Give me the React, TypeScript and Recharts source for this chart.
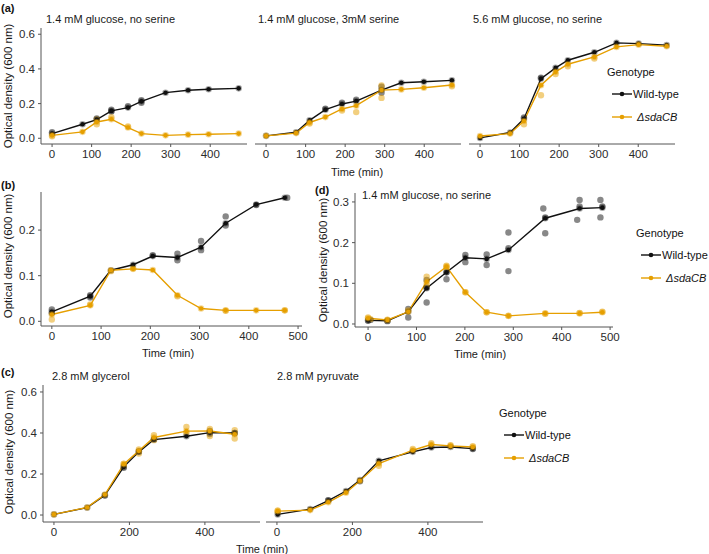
import { ComposedChart, Line, Scatter, XAxis, YAxis } from 'recharts';

const FONT = '"Liberation Sans", Arial, Helvetica, sans-serif';
const WT = '#111111';
const MUT = '#E69F00';
const AXIS = '#555555';
const TXT = '#2b2b2b';

// (a) 1.4 mM glucose, no serine
const a1Time = [0, 77, 113, 150, 192, 226, 287, 344, 396, 472];
const a1Wt = [0.027, 0.081, 0.108, 0.158, 0.177, 0.213, 0.263, 0.277, 0.283, 0.288];
const a1Mut = [0.017, 0.037, 0.094, 0.11, 0.062, 0.027, 0.017, 0.021, 0.023, 0.027];
const a1WtRepT = [0, 113, 150, 150, 192, 226, 226];
const a1WtRep = [0.035, 0.115, 0.165, 0.155, 0.185, 0.22, 0.205];
const a1MutRepT = [0, 113, 113, 150, 192];
const a1MutRep = [0.012, 0.108, 0.081, 0.122, 0.068];

// (a) 1.4 mM glucose, 3mM serine
const a2Time = [0, 76, 110, 150, 192, 228, 292, 342, 399, 470];
const a2Wt = [0.014, 0.035, 0.103, 0.165, 0.198, 0.214, 0.278, 0.32, 0.326, 0.334];
const a2Mut = [0.014, 0.03, 0.091, 0.122, 0.169, 0.188, 0.278, 0.282, 0.291, 0.307];
const a2WtRepT = [150, 192, 228, 292, 292];
const a2WtRep = [0.17, 0.205, 0.222, 0.297, 0.262];
const a2MutRepT = [110, 192, 228, 292, 292, 470];
const a2MutRep = [0.085, 0.16, 0.151, 0.305, 0.233, 0.3];

// (a) 5.6 mM glucose, no serine
const a3Time = [0, 76, 111, 154, 191, 222, 289, 345, 401, 472];
const a3Wt = [0.002, 0.033, 0.113, 0.344, 0.406, 0.45, 0.496, 0.55, 0.546, 0.537];
const a3Mut = [0.013, 0.027, 0.1, 0.306, 0.383, 0.427, 0.469, 0.527, 0.54, 0.531];
const a3WtRepT = [111, 154];
const a3WtRep = [0.12, 0.35];
const a3MutRepT = [111, 154, 191, 222, 289];
const a3MutRep = [0.081, 0.248, 0.37, 0.415, 0.46];

// (b)
const bTime = [0, 78, 120, 165, 205, 255, 303, 353, 415, 473];
const bWt = [0.0206, 0.055, 0.112, 0.124, 0.143, 0.14, 0.1625, 0.215, 0.256, 0.271];
const bMut = [0.015, 0.035, 0.112, 0.115, 0.1125, 0.057, 0.028, 0.024, 0.024, 0.024];
const bWtRepT = [0, 0, 78, 78, 205, 255, 255, 303, 303, 353, 353, 415, 478];
const bWtRep = [0.026, 0.018, 0.052, 0.057, 0.145, 0.148, 0.134, 0.176, 0.156, 0.23, 0.21, 0.255, 0.271];
const bMutRepT = [0, 78, 120, 165, 255, 353, 473];
const bMutRep = [0.004, 0.037, 0.11, 0.116, 0.055, 0.023, 0.024];

// (d) 1.4 mM glucose, no serine
const dTime = [0, 40, 83, 121, 162, 201, 245, 290, 366, 437, 484];
const dWt = [0.009, 0.008, 0.03, 0.088, 0.127, 0.163, 0.16, 0.182, 0.26, 0.284, 0.286];
const dMut = [0.014, 0.01, 0.03, 0.104, 0.141, 0.078, 0.029, 0.02, 0.026, 0.026, 0.029];
const dWtRepT = [0, 5, 40, 83, 83, 121, 121, 121, 162, 162, 201, 201, 245, 245, 290, 290, 290, 362, 366, 366, 437, 437, 432, 480, 484, 480];
const dWtRep = [0.008, 0.01, 0.007, 0.037, 0.016, 0.108, 0.09, 0.053, 0.127, 0.11, 0.17, 0.152, 0.171, 0.145, 0.186, 0.225, 0.13, 0.284, 0.223, 0.262, 0.305, 0.289, 0.256, 0.305, 0.289, 0.262];
const dMutRepT = [0, 5, 40, 83, 121, 121, 162, 162, 201, 245, 290, 366, 437, 484];
const dMutRep = [0.016, 0.012, 0.01, 0.033, 0.116, 0.096, 0.143, 0.139, 0.078, 0.029, 0.02, 0.025, 0.027, 0.03];

// (c) 2.8 mM glycerol
const c1Time = [0, 88, 135, 185, 225, 265, 351, 413, 479];
const c1Wt = [0.003, 0.036, 0.097, 0.235, 0.308, 0.368, 0.384, 0.402, 0.4];
const c1Mut = [0.003, 0.037, 0.1, 0.248, 0.313, 0.378, 0.409, 0.41, 0.394];
const c1WtRepT = [135, 185, 225, 265, 413, 413, 479];
const c1WtRep = [0.095, 0.23, 0.31, 0.37, 0.41, 0.395, 0.4];
const c1MutRepT = [185, 185, 225, 225, 265, 265, 351, 351, 413, 413, 479, 479];
const c1MutRep = [0.25, 0.24, 0.32, 0.3, 0.389, 0.365, 0.43, 0.4, 0.385, 0.42, 0.373, 0.413];

// (c) 2.8 mM pyruvate
const c2Time = [2, 88, 136, 183, 220, 270, 360, 409, 460, 519];
const c2Wt = [0.003, 0.029, 0.07, 0.117, 0.17, 0.264, 0.308, 0.329, 0.332, 0.324];
const c2Mut = [0.019, 0.024, 0.062, 0.109, 0.167, 0.251, 0.316, 0.344, 0.337, 0.332];
const c2MutRepT = [2, 2, 270, 360, 409, 460, 519];
const c2MutRep = [0.022, 0.015, 0.24, 0.322, 0.35, 0.34, 0.336];
const c2WtRepT = [136, 220, 519];
const c2WtRep = [0.072, 0.165, 0.322];

type Pt = { t: number; v: number };
const zip = (t: number[], v: number[]): Pt[] => t.map((x, i) => ({ t: x, v: v[i] }));

type FacetProps = {
  left: number;
  top: number;
  plotW: number;
  plotH: number;
  xDomain: [number, number];
  xTicks: number[];
  yDomain: [number, number];
  yTicks: number[];
  showY?: boolean;
  wt: Pt[];
  mut: Pt[];
  wtRep: Pt[];
  mutRep: Pt[];
};

const repShape = (color: string) => (p: any) =>
  <circle cx={p.cx} cy={p.cy} r={3.2} fill={color} fillOpacity={0.5} />;

function Facet(props: FacetProps) {
  const { left, top, plotW, plotH, xDomain, xTicks, yDomain, yTicks, showY, wt, mut, wtRep, mutRep } = props;
  const yw = showY ? 40 : 0;
  const xh = 24;
  const pad = 14; // room for the last tick label
  const tick = { fill: TXT, fontSize: 11.5, fontFamily: FONT };
  return (
    <div style={{ position: 'absolute', left: left - yw, top }}>
      <ComposedChart width={plotW + yw + pad} height={plotH + xh} margin={{ top: 0, right: pad, bottom: 0, left: 0 }}>
        <XAxis
          type="number"
          dataKey="t"
          domain={xDomain}
          ticks={xTicks}
          allowDataOverflow
          interval={0}
          height={xh}
          tickSize={3}
          tickMargin={3}
          stroke={AXIS}
          tick={tick}
        />
        <YAxis
          type="number"
          dataKey="v"
          domain={yDomain}
          ticks={yTicks}
          allowDataOverflow
          interval={0}
          hide={!showY}
          width={yw}
          tickSize={3}
          tickMargin={3}
          stroke={AXIS}
          tick={tick}
          tickFormatter={(v: number) => v.toFixed(1)}
        />
        <Scatter data={wtRep} shape={repShape(WT)} isAnimationActive={false} />
        <Scatter data={mutRep} shape={repShape(MUT)} isAnimationActive={false} />
        <Line
          data={wt}
          dataKey="v"
          stroke={WT}
          strokeWidth={1.4}
          dot={{ r: 2.3, fill: WT, stroke: WT, strokeOpacity: 0.35, strokeWidth: 2 }}
          isAnimationActive={false}
        />
        <Line
          data={mut}
          dataKey="v"
          stroke={MUT}
          strokeWidth={1.4}
          dot={{ r: 2.3, fill: MUT, stroke: MUT, strokeOpacity: 0.4, strokeWidth: 2 }}
          isAnimationActive={false}
        />
      </ComposedChart>
    </div>
  );
}

function Legend({ x, y }: { x: number; y: number }) {
  const rows = [
    { label: 'Wild-type', color: WT, italic: false, dy: 22, tx: 26 },
    { label: 'ΔsdaCB', color: MUT, italic: true, dy: 45, tx: 30 },
  ];
  return (
    <g fontFamily={FONT} fontSize={11} fill="#111">
      <text x={x} y={y} dominantBaseline="central">Genotype</text>
      {rows.map((r) => (
        <g key={r.label}>
          <line x1={x + 5} x2={x + 25} y1={y + r.dy} y2={y + r.dy} stroke={r.color} strokeWidth={1.4} />
          <circle cx={x + 15} cy={y + r.dy} r={2.3} fill={r.color} />
          <text x={x + r.tx} y={y + r.dy} dominantBaseline="central" fontStyle={r.italic ? 'italic' : 'normal'}>
            {r.label}
          </text>
        </g>
      ))}
    </g>
  );
}

const aX: [number, number] = [-28, 493];
const aY: [number, number] = [-0.033, 0.636];
const aXT = [0, 100, 200, 300, 400];
const aYT = [0, 0.2, 0.4, 0.6];

export default function App() {
  return (
    <div style={{ position: 'fixed', left: 0, top: 0, width: 709, height: 554, background: '#fff', fontFamily: FONT }}>
      <Facet left={41} top={28} plotW={206} plotH={116} xDomain={aX} xTicks={aXT} yDomain={aY} yTicks={aYT} showY
        wt={zip(a1Time, a1Wt)} mut={zip(a1Time, a1Mut)} wtRep={zip(a1WtRepT, a1WtRep)} mutRep={zip(a1MutRepT, a1MutRep)} />
      <Facet left={255} top={28} plotW={206} plotH={116} xDomain={aX} xTicks={aXT} yDomain={aY} yTicks={aYT}
        wt={zip(a2Time, a2Wt)} mut={zip(a2Time, a2Mut)} wtRep={zip(a2WtRepT, a2WtRep)} mutRep={zip(a2MutRepT, a2MutRep)} />
      <Facet left={469} top={28} plotW={206} plotH={116} xDomain={aX} xTicks={aXT} yDomain={aY} yTicks={aYT}
        wt={zip(a3Time, a3Wt)} mut={zip(a3Time, a3Mut)} wtRep={zip(a3WtRepT, a3WtRep)} mutRep={zip(a3MutRepT, a3MutRep)} />

      <Facet left={41} top={192} plotW={261} plotH={134} xDomain={[-22, 508]} xTicks={[0, 100, 200, 300, 400, 500]}
        yDomain={[-0.0103, 0.2835]} yTicks={[0, 0.1, 0.2]} showY
        wt={zip(bTime, bWt)} mut={zip(bTime, bMut)} wtRep={zip(bWtRepT, bWtRep)} mutRep={zip(bMutRepT, bMutRep)} />

      <Facet left={355} top={193} plotW={258} plotH={134} xDomain={[-27, 506]} xTicks={[0, 100, 200, 300, 400, 500]}
        yDomain={[-0.0074, 0.322]} yTicks={[0, 0.1, 0.2, 0.3]} showY
        wt={zip(dTime, dWt)} mut={zip(dTime, dMut)} wtRep={zip(dWtRepT, dWtRep)} mutRep={zip(dMutRepT, dMutRep)} />

      <Facet left={43} top={385} plotW={217} plotH={137} xDomain={[-29, 546]} xTicks={[0, 200, 400]}
        yDomain={[-0.034, 0.634]} yTicks={aYT} showY
        wt={zip(c1Time, c1Wt)} mut={zip(c1Time, c1Mut)} wtRep={zip(c1WtRepT, c1WtRep)} mutRep={zip(c1MutRepT, c1MutRep)} />
      <Facet left={266} top={385} plotW={217} plotH={137} xDomain={[-29, 546]} xTicks={[0, 200, 400]}
        yDomain={[-0.034, 0.634]} yTicks={aYT}
        wt={zip(c2Time, c2Wt)} mut={zip(c2Time, c2Mut)} wtRep={zip(c2WtRepT, c2WtRep)} mutRep={zip(c2MutRepT, c2MutRep)} />

      <svg width={709} height={554} style={{ position: 'absolute', left: 0, top: 0, pointerEvents: 'none' }}>
        <g fontFamily={FONT} fontSize={11} fontWeight="bold" fill="#111">
          <text x={1} y={8} dominantBaseline="central">(a)</text>
          <text x={1} y={185} dominantBaseline="central">(b)</text>
          <text x={315} y={190} dominantBaseline="central">(d)</text>
          <text x={1} y={372} dominantBaseline="central">(c)</text>
        </g>
        <g fontFamily={FONT} fontSize={11} fill="#1a1a1a">
          <text x={46} y={19} dominantBaseline="central">1.4 mM glucose, no serine</text>
          <text x={258} y={19} dominantBaseline="central">1.4 mM glucose, 3mM serine</text>
          <text x={473} y={19} dominantBaseline="central">5.6 mM glucose, no serine</text>
          <text x={362} y={195} dominantBaseline="central">1.4 mM glucose, no serine</text>
          <text x={52} y={376} dominantBaseline="central">2.8 mM glycerol</text>
          <text x={277} y={376} dominantBaseline="central">2.8 mM pyruvate</text>
        </g>
        <g fontFamily={FONT} fontSize={11} fill="#1a1a1a" textAnchor="middle">
          <text x={357} y={172} dominantBaseline="central">Time (min)</text>
          <text x={168} y={353} dominantBaseline="central">Time (min)</text>
          <text x={480} y={354} dominantBaseline="central">Time (min)</text>
          <text x={262} y={549} dominantBaseline="central">Time (min)</text>
        </g>
        <g fontFamily={FONT} fontSize={11.5} fill="#1a1a1a" textAnchor="middle">
          <text x={8} y={86} dominantBaseline="central" transform="rotate(-90 8 86)">Optical density (600 nm)</text>
          <text x={8} y={256} dominantBaseline="central" transform="rotate(-90 8 256)">Optical density (600 nm)</text>
          <text x={323} y={260} dominantBaseline="central" transform="rotate(-90 323 260)">Optical density (600 nm)</text>
          <text x={9} y={452} dominantBaseline="central" transform="rotate(-90 9 452)">Optical density (600 nm)</text>
        </g>
        <Legend x={607} y={72} />
        <Legend x={636} y={233} />
        <Legend x={499} y={413} />
      </svg>
    </div>
  );
}
